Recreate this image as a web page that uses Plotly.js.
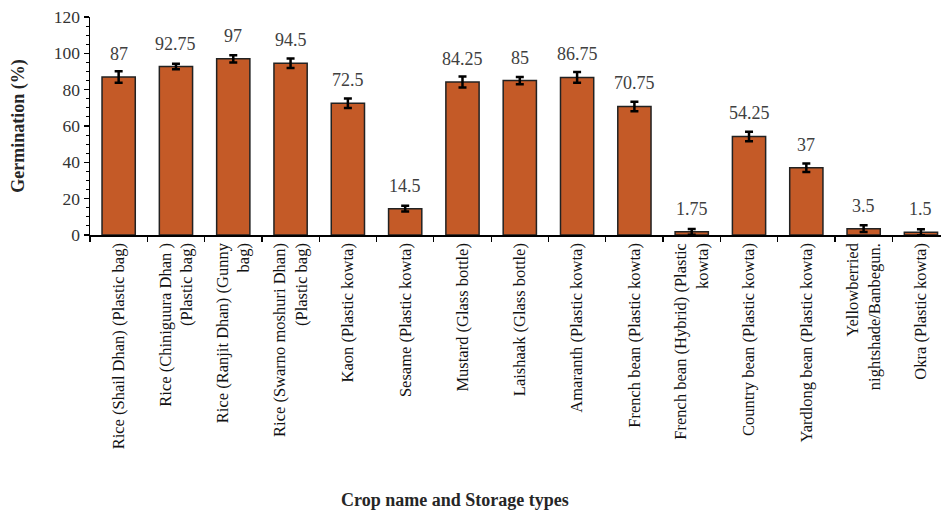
<!DOCTYPE html>
<html>
<head>
<meta charset="utf-8">
<script src="https://cdn.plot.ly/plotly-3.0.1.min.js"></script>
<style>html,body{margin:0;padding:0;background:#fff;}#chart{width:941px;height:518px;}</style>
</head>
<body>
<div id="chart"></div>
<script>
var categories = [
  "Rice (Shail Dhan) (Plastic bag)",
  "Rice (Chiniguura Dhan )<br>(Plastic bag)",
  "Rice (Ranjit Dhan) (Gunny<br>bag)",
  "Rice (Swarno moshuri Dhan)<br>(Plastic bag)",
  "Kaon (Plastic kowta)",
  "Sesame (Plastic kowta)",
  "Mustard (Glass bottle)",
  "Laishaak (Glass bottle)",
  "Amaranth (Plastic kowta)",
  "French bean (Plastic kowta)",
  "French bean (Hybrid) (Plastic<br>kowta)",
  "Country bean (Plastic kowta)",
  "Yardlong bean (Plastic kowta)",
  "Yellowberried<br>nightshade/Banbegun.",
  "Okra (Plastic kowta)"
];
var germination = [87, 92.75, 97, 94.5, 72.5, 14.5, 84.25, 85, 86.75, 70.75, 1.75, 54.25, 37, 3.5, 1.5];
var errors = [3.2, 1.5, 2, 2.6, 2.6, 1.6, 3, 2, 3, 2.6, 1.6, 2.6, 2.3, 1.8, 1.6];
var valueLabels = ["87", "92.75", "97", "94.5", "72.5", "14.5", "84.25", "85", "86.75", "70.75", "1.75", "54.25", "37", "3.5", "1.5"];

var serif = "'Liberation Serif', 'Times New Roman', serif";

var trace = {
  type: "bar",
  x: categories,
  y: germination,
  width: 0.58,
  marker: {color: "#C45A27", line: {color: "#222222", width: 1.5}},
  error_y: {type: "data", array: errors, visible: true, color: "#000000", thickness: 2.5, width: 4},
  hoverinfo: "x+y"
};

var annotations = categories.map(function (c, i) {
  return {
    x: c, y: germination[i], xref: "x", yref: "y",
    text: valueLabels[i], showarrow: false,
    yanchor: "bottom", yshift: 11,
    font: {family: serif, size: 18, color: "#404040"}
  };
});
annotations.push({
  xref: "paper", yref: "paper", x: (455 - 90) / (941 - 90), y: 0,
  yanchor: "middle", xanchor: "center", yshift: -265,
  text: "<b>Crop name and Storage types</b>", showarrow: false,
  font: {family: serif, size: 18, color: "#262626"}
});

var layout = {
  width: 941, height: 518,
  margin: {l: 90, r: 0, t: 17, b: 283},
  paper_bgcolor: "#ffffff", plot_bgcolor: "#ffffff",
  showlegend: false,
  xaxis: {
    type: "category",
    range: [-0.5, 14.35],
    tickangle: -90,
    tickson: "boundaries",
    ticks: "outside", ticklen: 5, tickcolor: "#000", tickwidth: 1.2,
    showline: true, linecolor: "#000", linewidth: 1.5,
    showgrid: false, zeroline: false,
    tickfont: {family: serif, size: 16.5, color: "#111"},
    automargin: false
  },
  yaxis: {
    range: [0, 120], dtick: 20,
    ticks: "outside", ticklen: 5, tickcolor: "#000", tickwidth: 1.2,
    minor: {dtick: 5, ticks: "outside", ticklen: 3, tickcolor: "#000", tickwidth: 1},
    showline: true, linecolor: "#000", linewidth: 1.5,
    showgrid: false, zeroline: false,
    tickfont: {family: serif, size: 17.5, color: "#333"},
    title: {text: "<b>Germination (%)</b>", font: {family: serif, size: 18, color: "#262626"}, standoff: 24},
    automargin: false
  },
  annotations: annotations
};

Plotly.newPlot("chart", [trace], layout, {displayModeBar: false, staticPlot: true});
</script>
</body>
</html>
